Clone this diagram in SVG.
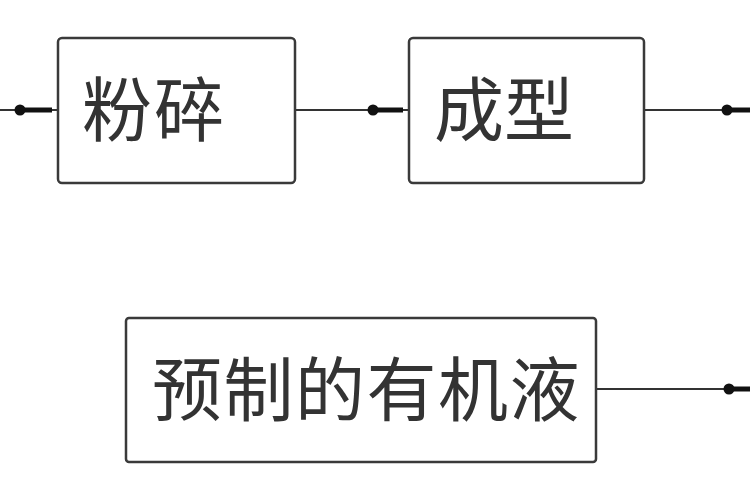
<svg xmlns="http://www.w3.org/2000/svg" width="750" height="500" viewBox="0 0 750 500">
<style>
.box{fill:#fff;stroke:#3a3a3a;stroke-width:2.5}
.lbl{font-family:"Noto Sans CJK SC","Noto Sans",sans-serif;font-size:70px;fill:#333}
.ln{stroke:#333;stroke-width:2;fill:none}
.hd{stroke:#111;stroke-width:5;fill:none}
.dot{fill:#111}
</style>
<rect width="750" height="500" fill="#fff"/>
<g id="connectors">
  <line class="ln" x1="0" y1="110" x2="57" y2="110"/>
  <line class="hd" x1="20" y1="110" x2="52" y2="110"/>
  <circle class="dot" cx="20" cy="110" r="5.5"/>
  <line class="ln" x1="295" y1="110" x2="409" y2="110"/>
  <line class="hd" x1="373" y1="110" x2="403" y2="110"/>
  <circle class="dot" cx="373" cy="110" r="5.5"/>
  <line class="ln" x1="645" y1="110" x2="750" y2="110"/>
  <line class="hd" x1="727" y1="110" x2="750" y2="110"/>
  <circle class="dot" cx="727" cy="110" r="5.5"/>
  <line class="ln" x1="597" y1="389" x2="750" y2="389"/>
  <line class="hd" x1="729" y1="389" x2="750" y2="389"/>
  <circle class="dot" cx="729" cy="389" r="5.5"/>
</g>
<g id="node-fensui">
  <rect class="box" x="58" y="38" width="237" height="145" rx="4"/>
  <text class="lbl" x="82" y="136" letter-spacing="2">粉碎</text>
</g>
<g id="node-chengxing">
  <rect class="box" x="409" y="38" width="235" height="145" rx="4"/>
  <text class="lbl" x="434" y="136">成型</text>
</g>
<g id="node-youjiye">
  <rect class="box" x="126" y="318" width="470" height="144" rx="3"/>
  <text class="lbl" x="152" y="416" letter-spacing="1.5">预制的有机液</text>
</g>
</svg>
